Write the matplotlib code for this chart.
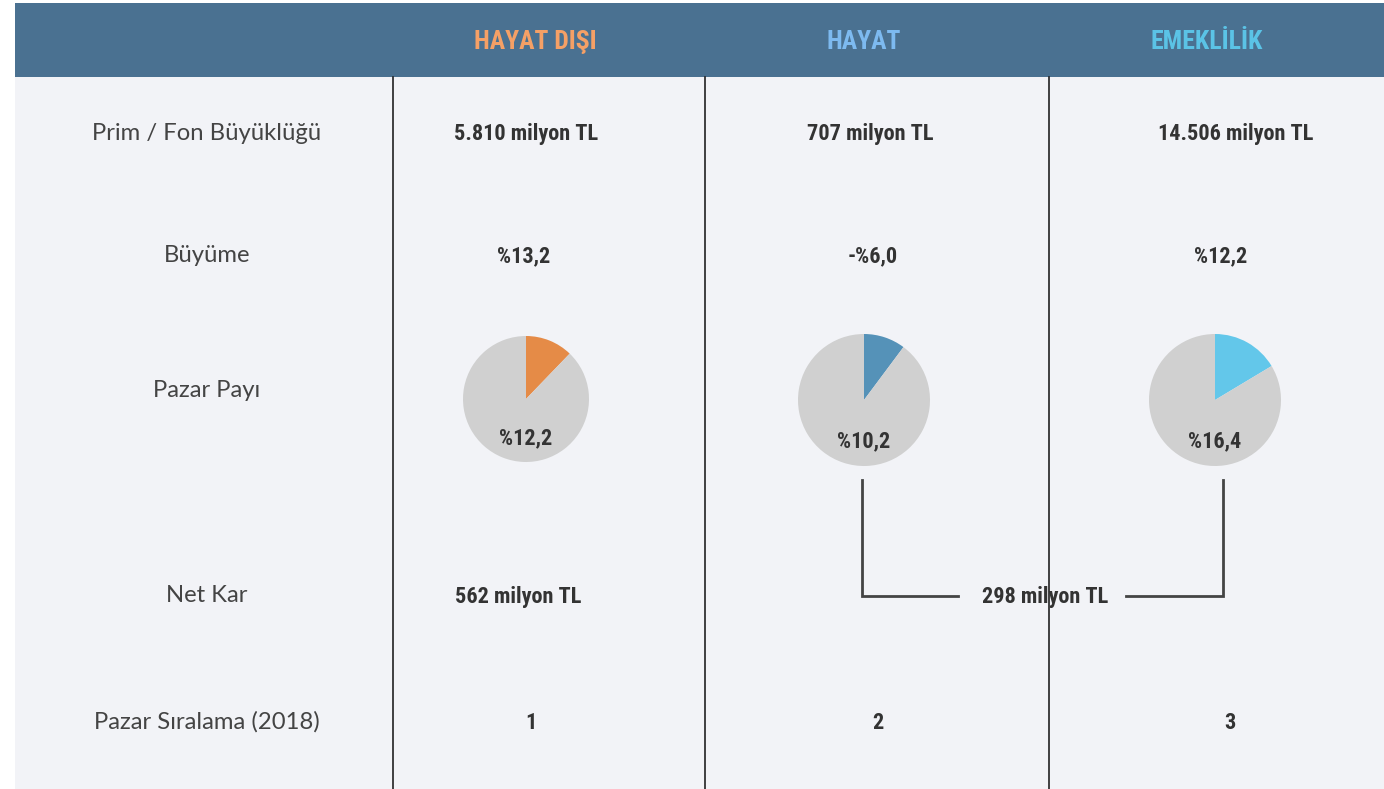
import matplotlib
matplotlib.use("Agg")
import matplotlib.pyplot as plt
from matplotlib.patches import Rectangle
from matplotlib import font_manager

# chart content
columns = ["HAYAT DIŞI", "HAYAT", "EMEKLİLİK"]
column_colors = ["#F5A066", "#7DBAF0", "#5BC3E6"]
row_labels = ["Prim / Fon Büyüklüğü", "Büyüme", "Pazar Payı", "Net Kar", "Pazar Sıralama (2018)"]
prim_fon = ["5.810 milyon TL", "707 milyon TL", "14.506 milyon TL"]
buyume = ["%13,2", "-%6,0", "%12,2"]
pazar_payi = [12.2, 10.2, 16.4]
pazar_payi_labels = ["%12,2", "%10,2", "%16,4"]
pie_colors = ["#E58B47", "#5592B8", "#63C7EA"]
net_kar = ["562 milyon TL", "298 milyon TL"]
siralama = ["1", "2", "3"]

names = {f.name for f in font_manager.fontManager.ttflist}
val_font = "Roboto"
for cand in ["Liberation Sans Narrow", "DejaVu Sans Condensed", "Roboto Condensed", "Open Sans Condensed"]:
    if cand in names:
        val_font = cand
        break
lbl_font = "Lato" if "Lato" in names else "DejaVu Sans"

W, H = 1384, 789
fig = plt.figure(figsize=(W / 100, H / 100), dpi=100)
ax = fig.add_axes([0, 0, 1, 1])
ax.set_xlim(0, W)
ax.set_ylim(H, 0)
ax.axis("off")

# background panels
ax.add_patch(Rectangle((15, 77), W - 15, H - 77, color="#F2F3F7", lw=0))
ax.add_patch(Rectangle((15, 3), W - 15, 74, color="#4A7191", lw=0))
for x in [393, 705, 1049]:
    ax.plot([x, x], [77, H], color="#222222", lw=1.2)

head_x = [535, 864, 1207]
for x, t, c in zip(head_x, columns, column_colors):
    ax.text(x, 42, t, color=c, fontsize=18.5, fontweight="bold", family=[val_font, "DejaVu Sans"],
            ha="center", va="center")

row_y = [133, 255, 390, 596, 722]
for y, t in zip(row_y, row_labels):
    ax.text(207, y, t, color="#444444", fontsize=17.2, fontweight="normal", family=[lbl_font, "DejaVu Sans"],
            ha="center", va="center")

vstyle = dict(color="#333333", fontsize=16, fontweight="bold", family=[val_font, "DejaVu Sans"],
              ha="center", va="center")
for x, t in zip([526, 870, 1236], prim_fon):
    ax.text(x, 134, t, **vstyle)
for x, t in zip([524, 873, 1221], buyume):
    ax.text(x, 256, t, **vstyle)
for x, t in zip([531, 878, 1230], siralama):
    ax.text(x, 723, t, **vstyle)
ax.text(518, 597, net_kar[0], **vstyle)
ax.text(1045, 597, net_kar[1], **vstyle)

# bracket joining hayat and emeklilik net kar
bk = dict(color="#444444", lw=2, solid_joinstyle="miter")
ax.plot([862, 862, 958], [480, 596, 596], **bk)
ax.plot([1126, 1223, 1223], [596, 596, 480], **bk)

# pies
pie_c = [(526, 399), (864, 400), (1215, 400)]
pie_r = [63, 66, 66]
for (cx, cy), r, v, c, lab in zip(pie_c, pie_r, pazar_payi, pie_colors, pazar_payi_labels):
    pax = fig.add_axes([(cx - r) / W, 1 - (cy + r) / H, 2 * r / W, 2 * r / H])
    pax.pie([v, 100 - v], colors=[c, "#D0D0D0"], startangle=90, counterclock=False,
            wedgeprops=dict(lw=0))
    pax.set_xlim(-1, 1)
    pax.set_ylim(-1, 1)
    pax.text(0, -0.62, lab, **vstyle)

fig.savefig("out.png", dpi=100)
